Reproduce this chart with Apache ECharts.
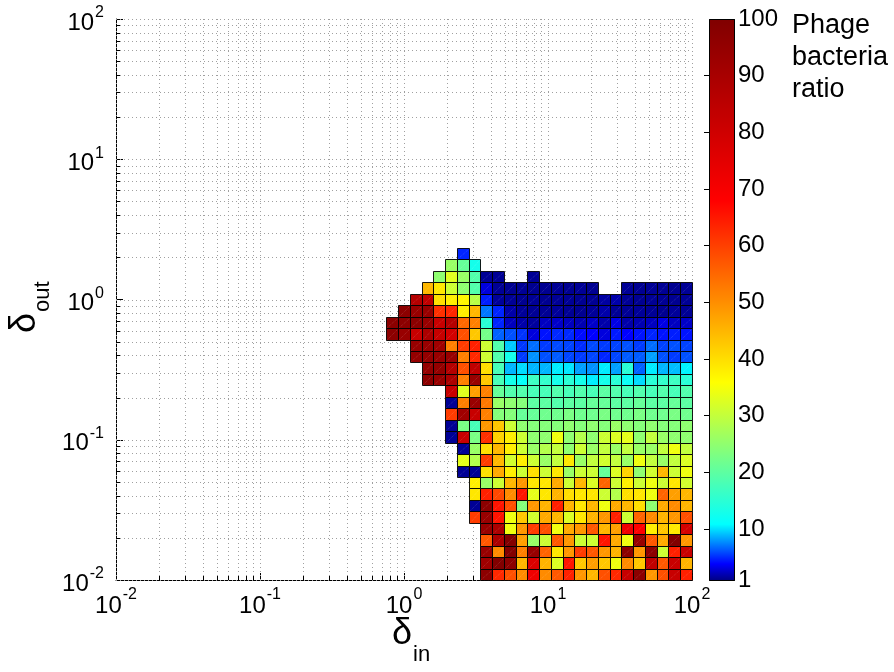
<!DOCTYPE html>
<html><head><meta charset="utf-8">
<script src="https://cdn.jsdelivr.net/npm/echarts@6/dist/echarts.min.js"></script>
<style>html,body{margin:0;padding:0;background:#fff}#c{width:894px;height:672px}</style>
</head><body><div id="c"></div>
<script>
// ---- data ----
const xTicks = [0.01, 0.1, 1, 10, 100];
const yTicks = [0.01, 0.1, 1, 10, 100];
const xTickExp = ['-2', '-1', '0', '1', '2'];
const yTickExp = ['-2', '-1', '0', '1', '2'];
const cbTicks = [1, 10, 20, 30, 40, 50, 60, 70, 80, 90, 100];
// cell vertices: logspace(-2, 2, 50); row j / column k index the cells
const nVert = 50;
// first column index of each row (row 0 = bottom)
const rowStarts = [31,31,31,31,31, 30,30,30,30, 29,29,29, 28,28,28,28,28, 26,26, 25,25, 23,23, 24, 25, 26, 27, 28, 29];
const row00 = [97,63,58,50.5,72,50.5,57,64,49,45,58,63,82,97,49,58,82,64];
const row01 = [92,99.5,97,45,77,45.4,32.6,65.5,43,48,43,34.5,50.5,43,84,57,82,45.4];
const row02 = [94,50.5,99.5,52,94,55.5,39,49,60.5,57,49,45.4,97,49,97,31,64,82];
const row03 = [57,89,99.5,48,26,31,57,49,31,31,65.5,46.6,34.5,94,57,46.6,99.5,49];
const row04 = [94,89,34.5,49,60.5,58,34.5,46.6,49,57,45,48,71.8,68,38,43,38.5,79];
const row05 = [60.5,94,65.5,34.5,43,31.5,46.6,45,32.6,39,45.4,49,64,31,55.5,50.5,45.4,49,58];
const row06 = [1.5,97,65.5,58,24,49,45.4,64,45.4,39,45,34.5,46.6,45,40,25,46.6,50.5,45];
const row07 = [39,64,59,50.5,65.5,33.5,39,45.4,40,39,39,31,28.6,40,39,34.5,55.5,48,45];
const row08 = [38,26,31,45,49,39,39,46.6,31,45,32.6,55.5,31,38,31,34.5,31,39,31.5];
const row09 = [1.5,1.5,40,46.6,38,31,40,31,39,26,31,31,21,32.6,41.5,25,31.5,45,31,34.5];
const row10 = [33.5,28.6,60.5,45,31.5,38,31,26,30,39,26,30,31.5,30,26,34.5,30,26,30,32.6];
const row11 = [1.5,26,40,45,38,31,26,28.6,30,25,31,26,30,26,30,26,26,30,34.5,30];
const row12 = [1.5,82,23,62,41.5,38,31,25,25,34.5,25,28.6,25,31,32.6,33.5,25,30,26,25,25];
const row13 = [1.5,23,18,49,43,31,25,24,24,24,25,24,25,24,26,25,24,25,24,24,25];
const row14 = [60.5,92,82,52,24,24,21,21,22,22,23,22,22,23,22,22,23,22,22,23,22];
const row15 = [1.5,52,94,53,26,25,24,20,20,19,20,20,21,21,20,20,21,20,20,21,20];
const row16 = [82,33,48,52,21,19,19,18,18,19,18,19,18,20,19,18,19,18,19,18,19];
const row17 = [97,94,89,52,94,43,18,13,11.5,17,16,13,15,13,10.5,13,15,12,10,15,16,17,15];
const row18 = [95,95,87,58,84,40,18,9,10,9,9,10.5,10.3,8.4,8,10.5,8.4,15,6.7,10.5,9,9.2,10.7];
const row19 = [95,95,94,94,52,63,31,19,13,5.6,8,6.2,6.5,5.9,5.6,5.9,5,5.9,6.5,6.5,8.4,6.2,5.6,6.2];
const row20 = [94,94,92,52,60.5,64,31,19,9.5,5.5,7,5.6,6,5.8,5.2,6,5.6,5.8,6.2,5.6,7,5.8,6.2,5.8];
const row21 = [97,94,82,89,82,79,58,43,22.5,6.7,6.2,5.4,3.2,4.5,5.1,5.1,4.3,4,3.2,4.7,4,4.5,5,4.5,4.8,4.5];
const row22 = [97,97,97,94,82,87,55,52,15,5,2.5,2,1.7,2.5,2.7,2.5,2.2,2.7,2,3.4,2,2.2,2.5,3.4,2.5,2.7];
const row23 = [97,94,94,62,63,38,45,7.3,5,2,1.6,1.5,1.5,1.6,1.5,1.4,1.6,2,1.5,1.5,1.6,1.5,1.4,1.6,1.5];
const row24 = [87,84,40,38,37,29,4.8,1.6,1.5,1.4,1.5,1.4,1.5,1.5,1.4,1.5,1.8,2,1.5,1.4,1.5,1.5,1.4,1.5];
const row25 = [45,39,31,25,19,3.2,1.5,1.4,1.5,1.4,1.4,1.5,1.4,1.5,1.4,null,null,1.5,1.4,1.5,1.5,1.4,1.5];
const row26 = [25,33,26,19,1.5,1.5,null,null,1.5];
const row27 = [26,21,13];
const row28 = [5];
const rowValues = [row00,row01,row02,row03,row04,row05,row06,row07,row08,row09,row10,row11,row12,row13,row14,
  row15,row16,row17,row18,row19,row20,row21,row22,row23,row24,row25,row26,row27,row28];
// colormap anchor points (value, rgb)
const cmapStops = [[1,[0,0,128]],[4,[0,0,255]],[11,[0,255,255]],[36,[255,255,0]],[68,[255,0,0]],[100,[128,0,0]]];

// ---- helpers ----
const FONT = '"Liberation Sans", Arial, Helvetica, sans-serif';
function vert(i){ return Math.pow(10, -2 + 4 * i / (nVert - 1)); }
function cmap(v){
  for (let i = 0; i < cmapStops.length - 1; i++){
    const [a, ca] = cmapStops[i], [b, cb] = cmapStops[i+1];
    if (v <= b || i === cmapStops.length - 2){
      const t = Math.max(0, Math.min(1, (v - a) / (b - a)));
      return 'rgb(' + ca.map((c, n) => Math.round(c + (cb[n] - c) * t)).join(',') + ')';
    }
  }
}
const cmapColors = [];
for (let v = 1; v <= 100; v++) cmapColors.push(cmap(v));

const cells = [];
rowValues.forEach((vals, j) => vals.forEach((v, i) => {
  if (v == null) return;
  const k = rowStarts[j] + i;
  cells.push([vert(k), vert(j), v, vert(k + 1), vert(j + 1)]);
}));
const minorVals = [];
for (let d = -2; d < 2; d++) for (let m = 2; m <= 9; m++) minorVals.push(m * Math.pow(10, d));
const gridVals = xTicks.concat(minorVals);

const chart = echarts.init(document.getElementById('c'), null, {renderer: 'canvas'});
const GRIDC = '#a0a0a0';
function isMajorVal(v){ return xTicks.some(t => Math.abs(Math.log10(t) - Math.log10(v)) < 1e-6); }

const option = {
  backgroundColor: '#fff',
  animation: false,
  grid: [
    {left: 116, top: 19, width: 576, height: 561},
    {left: 709, top: 19, width: 25, height: 561}
  ],
  xAxis: [
    {type: 'log', logBase: 10, gridIndex: 0, min: 0.01, max: 100,
      axisLine: {show: true, onZero: false, lineStyle: {color: '#000', width: 1}},
      axisTick: {show: true, inside: true, length: 7, customValues: xTicks, lineStyle: {color: '#000'}},
      axisLabel: {show: false},
      splitLine: {show: false}, minorTick: {show: false}},
    {type: 'value', gridIndex: 1, min: 0, max: 1, show: false}
  ],
  yAxis: [
    {type: 'log', logBase: 10, gridIndex: 0, min: 0.01, max: 100,
      axisLine: {show: true, onZero: false, lineStyle: {color: '#000', width: 1}},
      axisTick: {show: true, inside: true, length: 7, customValues: yTicks, lineStyle: {color: '#000'}},
      axisLabel: {show: false},
      splitLine: {show: false}},
    {type: 'value', gridIndex: 1, min: 1, max: 100, position: 'right',
      axisLine: {show: false},
      axisTick: {show: true, inside: true, length: 5, customValues: [10,20,30,40,50,60,70,80,90], lineStyle: {color: '#000'}},
      axisLabel: {show: true, customValues: cbTicks, margin: 4, color: '#000', fontSize: 24, fontFamily: FONT, padding: [5, 0, 0, 0]},
      splitLine: {show: false}},
    {type: 'value', gridIndex: 1, min: 1, max: 100, position: 'left',
      axisLine: {show: false},
      axisTick: {show: true, inside: true, length: 5, customValues: [10,20,30,40,50,60,70,80,90], lineStyle: {color: '#000'}},
      axisLabel: {show: false}, splitLine: {show: false}}
  ],
  visualMap: {type: 'continuous', show: false, seriesIndex: 2, dimension: 2, min: 1, max: 100,
    inRange: {color: cmapColors}},
  series: [
    {type: 'custom', name: 'xgrid', xAxisIndex: 0, yAxisIndex: 0, z: 1, silent: true,
      data: gridVals.map(v => [v, 1]), encode: {x: 0, y: 1}, renderItem: (p, api) => {
        const v = api.value(0); const cs = p.coordSys;
        const x = Math.round(api.coord([v, 1])[0]) + 0.5;
        const ch = [{type: 'line', shape: {x1: x, y1: cs.y, x2: x, y2: cs.y + cs.height}, style: {stroke: GRIDC, lineWidth: 1, lineDash: [1, 3]}}];
        if (!isMajorVal(v)) ch.push({type: 'line', shape: {x1: x, y1: cs.y + cs.height, x2: x, y2: cs.y + cs.height - 4}, style: {stroke: '#000', lineWidth: 1}});
        return {type: 'group', children: ch};
      }},
    {type: 'custom', name: 'ygrid', xAxisIndex: 0, yAxisIndex: 0, z: 1, silent: true,
      data: gridVals.map(v => [1, v]), encode: {x: 0, y: 1}, renderItem: (p, api) => {
        const v = api.value(1); const cs = p.coordSys;
        const y = Math.round(api.coord([1, v])[1]) + 0.5;
        const ch = [{type: 'line', shape: {x1: cs.x, y1: y, x2: cs.x + cs.width, y2: y}, style: {stroke: GRIDC, lineWidth: 1, lineDash: [1, 3]}}];
        if (!isMajorVal(v)) ch.push({type: 'line', shape: {x1: cs.x, y1: y, x2: cs.x + 4, y2: y}, style: {stroke: '#000', lineWidth: 1}});
        return {type: 'group', children: ch};
      }},
    {type: 'custom', name: 'ratio', xAxisIndex: 0, yAxisIndex: 0, z: 3,
      data: cells, encode: {x: [0, 3], y: [1, 4]},
      renderItem: (params, api) => {
        const p0 = api.coord([api.value(0), api.value(1)]);
        const p1 = api.coord([api.value(3), api.value(4)]);
        const x0 = Math.round(p0[0]) + 0.5, y0 = Math.round(p0[1]) + 0.5;
        const x1 = Math.round(p1[0]) + 0.5, y1 = Math.round(p1[1]) + 0.5;
        return {type: 'group', children: [
          {type: 'rect', shape: {x: x0, y: y1, width: x1 - x0, height: y0 - y1},
            style: {fill: api.visual('color'), stroke: 'rgba(0,0,0,0.9)', lineWidth: 1}},
          {type: 'line', shape: {x1: x0 + 1, y1: y0 - 1, x2: x1 - 1, y2: y1 + 1},
            style: {stroke: 'rgba(255,255,255,0.22)', lineWidth: 0.8, lineDash: [1, 1]}}
        ]};
      }},
    {type: 'custom', name: 'colorbar', xAxisIndex: 1, yAxisIndex: 1, z: 3, silent: true,
      data: [[0, 1, 1, 100]], encode: {x: [0, 2], y: [1, 3]},
      renderItem: (params, api) => {
        const p0 = api.coord([0, 1]), p1 = api.coord([1, 100]);
        const stops = cmapColors.map((c, i) => ({offset: i / 99, color: c}));
        return {type: 'rect', shape: {x: p0[0] + 0.5, y: p1[1] + 0.5, width: p1[0] - p0[0], height: p0[1] - p1[1]},
          style: {fill: new echarts.graphic.LinearGradient(0, 1, 0, 0, stops), stroke: '#000', lineWidth: 1}};
      }}
  ]
};
chart.setOption(option);

// ---- tick labels "10^n" placed from the axes' own scales ----
const ctx = document.createElement('canvas').getContext('2d');
function tw(text, size){ ctx.font = size + 'px ' + FONT; return ctx.measureText(text).width; }
const BASE = 24, SUP = 16;
const graphics = [];
function addPow(exp, xLeft, yBase, ySup){
  const wb = tw('10', BASE);
  graphics.push({type: 'text', x: xLeft, y: yBase, silent: true,
    style: {text: '10', font: BASE + 'px ' + FONT, fill: '#000', align: 'left', verticalAlign: 'middle'}});
  graphics.push({type: 'text', x: xLeft + wb + 1, y: ySup, silent: true,
    style: {text: exp, font: SUP + 'px ' + FONT, fill: '#000', align: 'left', verticalAlign: 'middle'}});
}
xTicks.forEach((t, i) => {
  const px = chart.convertToPixel({xAxisIndex: 0}, t);
  const w = tw('10', BASE) + 1 + tw(xTickExp[i], SUP);
  addPow(xTickExp[i], px - w / 2, 606, 595);
});
yTicks.forEach((t, i) => {
  const py = chart.convertToPixel({yAxisIndex: 0}, t);
  const w = tw('10', BASE) + 1 + tw(yTickExp[i], SUP);
  addPow(yTickExp[i], 104 - w, py + 4, py - 6);
});
graphics.push(
  {type: 'text', x: 792, y: 10, style: {text: 'Phage\nbacteria\nratio', font: '27px ' + FONT, lineHeight: 32, fill: '#000'}},
  {type: 'text', x: 402, y: 634, style: {text: 'δ', font: '36px ' + FONT, fill: '#000', align: 'center', verticalAlign: 'middle'}},
  {type: 'text', x: 413, y: 655, style: {text: 'in', font: '22px ' + FONT, fill: '#000', align: 'left', verticalAlign: 'middle'}},
  {type: 'text', x: 25, y: 323, rotation: Math.PI / 2, style: {text: 'δ', font: '36px ' + FONT, fill: '#000', align: 'center', verticalAlign: 'middle'}},
  {type: 'text', x: 43, y: 312, rotation: Math.PI / 2, style: {text: 'out', font: '22px ' + FONT, fill: '#000', align: 'left', verticalAlign: 'middle'}}
);
chart.setOption({graphic: graphics});
</script>
</body></html>
